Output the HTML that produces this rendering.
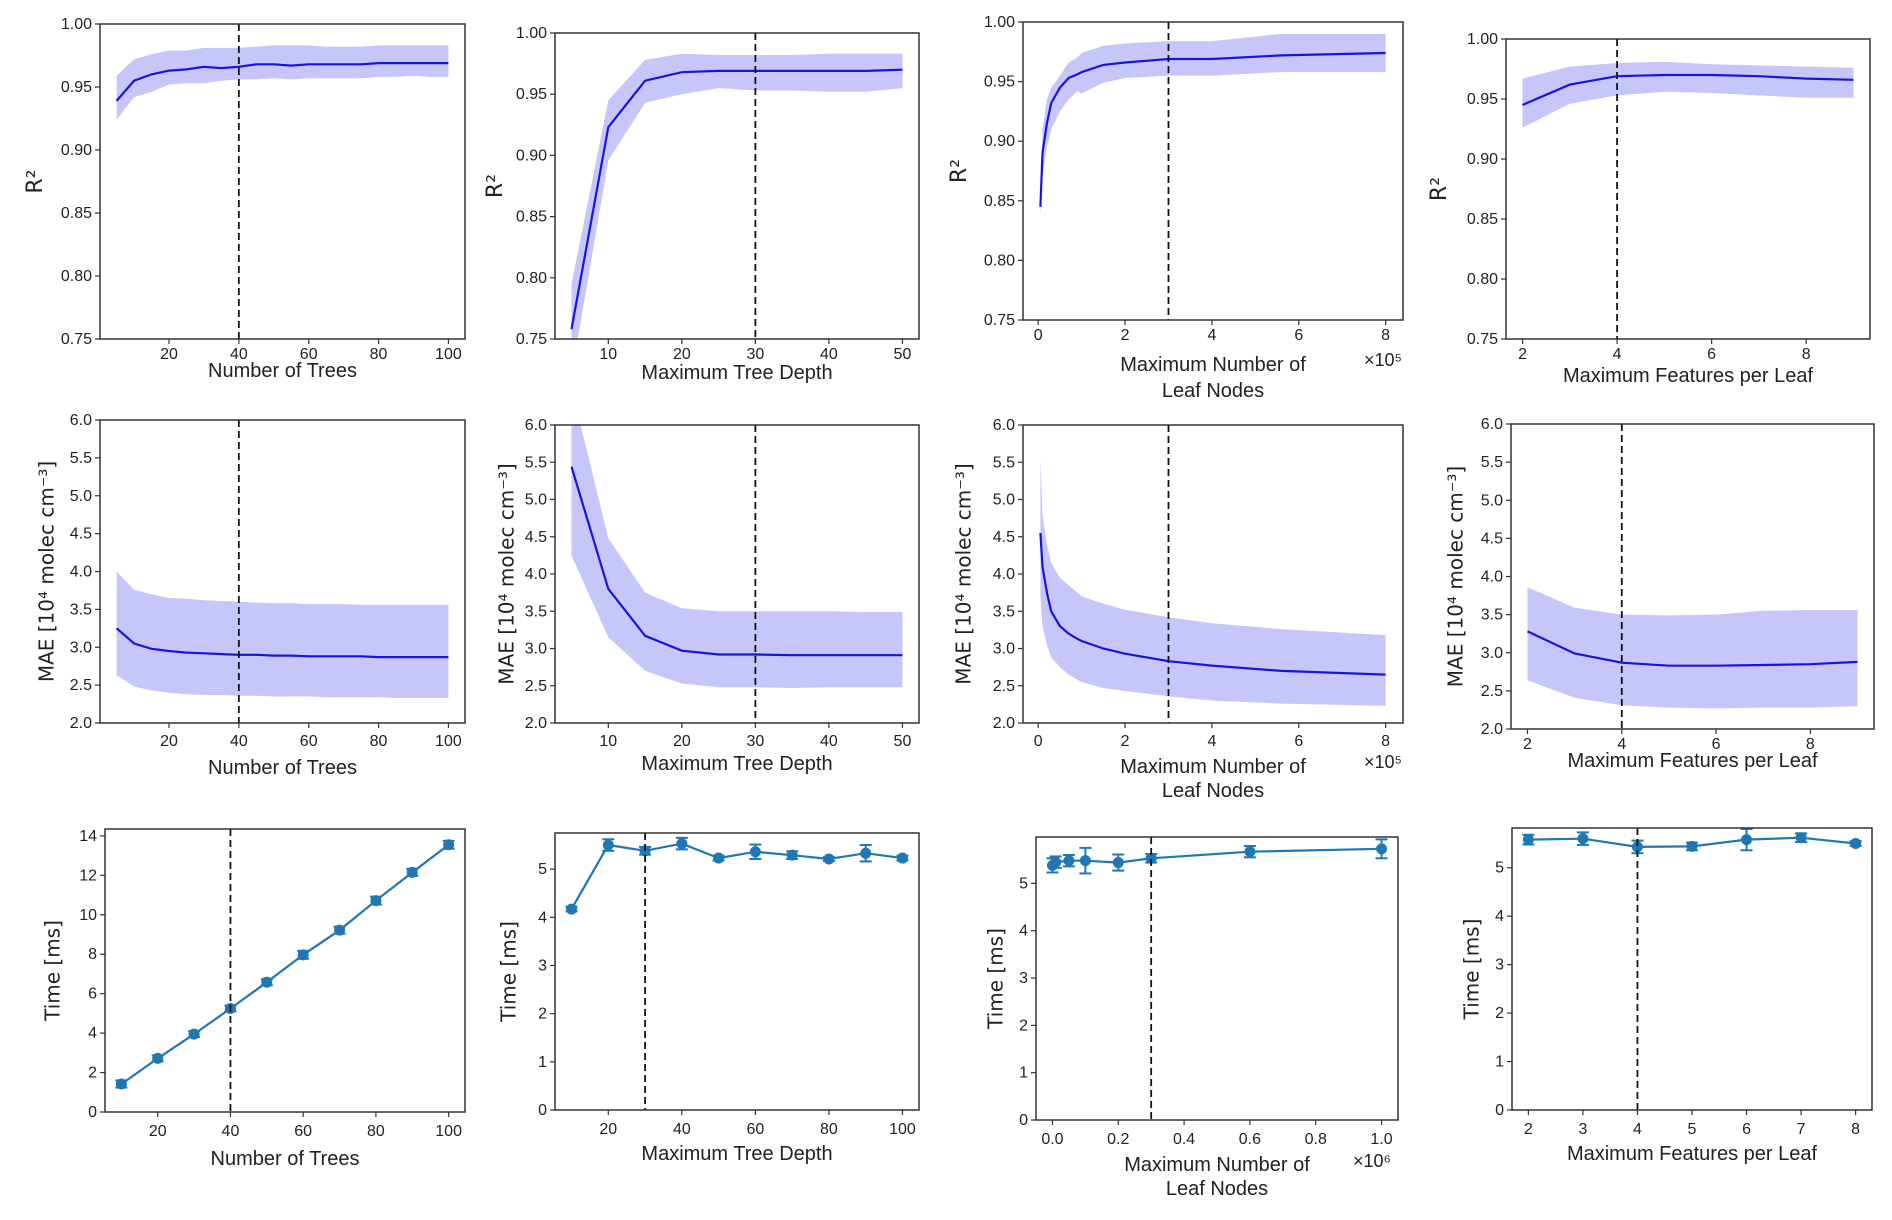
<!DOCTYPE html>
<html><head><meta charset="utf-8"><style>
html,body{margin:0;padding:0;background:#fff}
svg{display:block}
text{font-family:"Liberation Sans",sans-serif;fill:#222}
.tick{font-size:16px}
.mult{font-size:18px}
.xl{font-size:20px}
.yl{font-family:"DejaVu Sans","Liberation Sans",sans-serif;font-size:20px}
.ylr{font-family:"DejaVu Sans","Liberation Sans",sans-serif;font-size:22px}
</style></head><body>
<svg id="fig" width="1892" height="1220" viewBox="0 0 1892 1220" xmlns="http://www.w3.org/2000/svg"></svg>
<script>
// ---- data ----
const treesX=[5,10,15,20,25,30,35,40,45,50,55,60,65,70,75,80,85,90,95,100];
const r2TreesMean=[0.939,0.955,0.960,0.963,0.964,0.966,0.965,0.966,0.968,0.968,0.967,0.968,0.968,0.968,0.968,0.969,0.969,0.969,0.969,0.969];
const r2TreesUp=[0.959,0.972,0.976,0.979,0.979,0.981,0.981,0.981,0.982,0.983,0.983,0.983,0.982,0.982,0.982,0.983,0.983,0.983,0.983,0.983];
const r2TreesLo=[0.924,0.942,0.946,0.952,0.953,0.953,0.955,0.956,0.956,0.957,0.956,0.957,0.957,0.957,0.957,0.958,0.958,0.959,0.958,0.958];
const depthX=[5,10,15,20,25,30,35,40,45,50];
const r2DepthMean=[0.758,0.923,0.961,0.968,0.969,0.969,0.969,0.969,0.969,0.970];
const r2DepthUp=[0.795,0.945,0.978,0.983,0.982,0.982,0.982,0.983,0.983,0.983];
const r2DepthLo=[0.72,0.896,0.943,0.950,0.955,0.953,0.953,0.952,0.952,0.955];
const leafX=[0.05,0.1,0.2,0.3,0.5,0.7,0.9,1.0,1.5,2,3,4,5.6,8];
const r2LeafMean=[0.845,0.89,0.915,0.932,0.945,0.953,0.956,0.958,0.964,0.966,0.969,0.969,0.972,0.974];
const r2LeafUp=[0.85,0.91,0.935,0.945,0.955,0.966,0.970,0.974,0.980,0.982,0.984,0.984,0.990,0.990];
const r2LeafLo=[0.838,0.87,0.895,0.91,0.925,0.935,0.942,0.940,0.949,0.953,0.955,0.955,0.958,0.958];
const featX=[2,3,4,5,6,7,8,9];
const r2FeatMean=[0.945,0.962,0.969,0.970,0.970,0.969,0.967,0.966];
const r2FeatUp=[0.967,0.977,0.980,0.981,0.979,0.978,0.977,0.976];
const r2FeatLo=[0.926,0.946,0.953,0.956,0.955,0.953,0.951,0.951];
const maeTreesMean=[3.25,3.05,2.98,2.95,2.93,2.92,2.91,2.90,2.90,2.89,2.89,2.88,2.88,2.88,2.88,2.87,2.87,2.87,2.87,2.87];
const maeTreesUp=[4.0,3.76,3.70,3.65,3.64,3.62,3.61,3.60,3.59,3.58,3.58,3.57,3.57,3.57,3.56,3.56,3.56,3.56,3.56,3.56];
const maeTreesLo=[2.63,2.48,2.43,2.40,2.38,2.37,2.37,2.36,2.36,2.35,2.35,2.35,2.34,2.34,2.34,2.34,2.33,2.33,2.33,2.33];
const maeDepthMean=[5.44,3.80,3.17,2.97,2.92,2.92,2.91,2.91,2.91,2.91];
const maeDepthUp=[6.5,4.48,3.75,3.54,3.50,3.50,3.50,3.50,3.49,3.49];
const maeDepthLo=[4.25,3.15,2.70,2.53,2.48,2.48,2.47,2.48,2.48,2.48];
const maeLeafMean=[4.55,4.1,3.75,3.5,3.3,3.2,3.13,3.10,3.0,2.93,2.83,2.77,2.70,2.65];
const maeLeafUp=[5.55,4.8,4.4,4.15,3.95,3.85,3.75,3.70,3.60,3.52,3.42,3.34,3.26,3.18];
const maeLeafLo=[3.7,3.3,3.05,2.88,2.75,2.65,2.58,2.55,2.47,2.43,2.36,2.30,2.26,2.23];
const maeFeatMean=[3.28,2.99,2.87,2.83,2.83,2.84,2.85,2.88];
const maeFeatUp=[3.86,3.59,3.50,3.49,3.50,3.55,3.56,3.56];
const maeFeatLo=[2.64,2.41,2.31,2.28,2.27,2.28,2.28,2.30];
const timeTreesX=[10,20,30,40,50,60,70,80,90,100];
const timeTreesMean=[1.42,2.72,3.95,5.25,6.58,7.97,9.22,10.72,12.15,13.55];
const timeTreesErr=[0.18,0.15,0.15,0.15,0.15,0.2,0.18,0.2,0.18,0.2];
const timeDepthX=[10,20,30,40,50,60,70,80,90,100];
const timeDepthMean=[4.17,5.50,5.38,5.53,5.23,5.36,5.29,5.21,5.33,5.23];
const timeDepthErr=[0.05,0.12,0.08,0.12,0.05,0.15,0.08,0.04,0.17,0.05];
const timeLeafX=[0.0,0.01,0.05,0.1,0.2,0.3,0.6,1.0];
const timeLeafMean=[5.38,5.45,5.48,5.48,5.44,5.53,5.67,5.73];
const timeLeafErr=[0.15,0.12,0.12,0.27,0.17,0.09,0.12,0.2];
const timeFeatX=[2,3,4,5,6,7,8];
const timeFeatMean=[5.58,5.60,5.43,5.44,5.58,5.62,5.50];
const timeFeatErr=[0.1,0.13,0.13,0.08,0.22,0.09,0.05];
const r2Ticks=["0.75","0.80","0.85","0.90","0.95","1.00"];
const maeTicks=["2.0","2.5","3.0","3.5","4.0","4.5","5.0","5.5","6.0"];

const NS="http://www.w3.org/2000/svg";
const svg=document.getElementById('fig');
function mk(tag,attrs,parent){const e=document.createElementNS(NS,tag);for(const k in attrs)e.setAttribute(k,attrs[k]);(parent||svg).appendChild(e);return e;}
let clipId=0;

function panel(c){
  const g=mk('g',{});
  
  
  const X=v=>c.box[0]+(v-c.xlim[0])/(c.xlim[1]-c.xlim[0])*(c.box[2]-c.box[0]);
  const Y=v=>c.box[3]-(v-c.ylim[0])/(c.ylim[1]-c.ylim[0])*(c.box[3]-c.box[1]);
  const id='clip'+(clipId++);
  const cp=mk('clipPath',{id:id},g);
  mk('rect',{x:c.box[0],y:c.box[1],width:c.box[2]-c.box[0],height:c.box[3]-c.box[1]},cp);
  const inner=mk('g',{'clip-path':'url(#'+id+')'},g);
  if(c.up){
    let d='';
    c.x.forEach((v,i)=>{d+=(i?'L':'M')+X(v).toFixed(1)+','+Y(c.up[i]).toFixed(1);});
    for(let i=c.x.length-1;i>=0;i--)d+='L'+X(c.x[i]).toFixed(1)+','+Y(c.lo[i]).toFixed(1);
    const band=mk('path',{d:d+'Z',fill:'#c6c6fb',stroke:'none'},inner);
    
    
  }
  const col=c.err?'#1f77b4':'#1515dd';
  let d='';c.x.forEach((v,i)=>{d+=(i?'L':'M')+X(v).toFixed(1)+','+Y(c.y[i]).toFixed(1);});
  const ln=mk('path',{d:d,fill:'none',stroke:col,'stroke-width':2.2},inner);
  
  
  if(c.err){
    c.x.forEach((v,i)=>{
      const px=X(v),a=Y(c.y[i]+c.err[i]),b=Y(c.y[i]-c.err[i]);
      const eg=mk('g',{},inner);
      
      
      mk('line',{x1:px,x2:px,y1:a,y2:b,stroke:col,'stroke-width':2},eg);
      mk('line',{x1:px-6,x2:px+6,y1:a,y2:a,stroke:col,'stroke-width':2},eg);
      mk('line',{x1:px-6,x2:px+6,y1:b,y2:b,stroke:col,'stroke-width':2},eg);
      const pt=mk('circle',{cx:px,cy:Y(c.y[i]),r:5.5,fill:col},eg);
      
      
    });
  }
  const vl=mk('line',{x1:X(c.vline),x2:X(c.vline),y1:c.box[1],y2:c.box[3],stroke:'#111','stroke-width':1.8,'stroke-dasharray':'7,4'},g);
  
  
  mk('rect',{x:c.box[0],y:c.box[1],width:c.box[2]-c.box[0],height:c.box[3]-c.box[1],fill:'none',stroke:'#333','stroke-width':1.5},g);
  c.xt.forEach(t=>{
    const px=X(+t);
    mk('line',{x1:px,x2:px,y1:c.box[3],y2:c.box[3]+5,stroke:'#333','stroke-width':1.2},g);
    const tx=mk('text',{x:px,y:c.box[3]+c.xtOff,'text-anchor':'middle','class':'tick'},g);
    tx.textContent=t;
    
    
  });
  c.yt.forEach(t=>{
    const py=Y(+t);
    mk('line',{x1:c.box[0]-5,x2:c.box[0],y1:py,y2:py,stroke:'#333','stroke-width':1.2},g);
    const tx=mk('text',{x:c.box[0]-8,y:py+5,'text-anchor':'end','class':'tick'},g);
    tx.textContent=t;
    
    
  });
  const cx=(c.box[0]+c.box[2])/2;
  c.xlabel.forEach((s,i)=>{
    const t=mk('text',{x:cx,y:c.xly[i]+7,'text-anchor':'middle','class':'xl'},g);
    t.textContent=s;
    
    
  });
  if(c.mult){
    const t=mk('text',{x:c.mult[1],y:c.mult[2],'text-anchor':'middle','class':'mult'},g);
    t.textContent=c.mult[0];
    
    
  }
  const cy=(c.box[1]+c.box[3])/2;
  const yt=mk('text',{x:c.ylx,y:cy,'text-anchor':'middle','class':c.ylabel==='R²'?'ylr':'yl',transform:'rotate(-90 '+c.ylx+' '+cy+')','dominant-baseline':'middle'},g);
  yt.textContent=c.ylabel;
  
  
}
const R2='R²',MAE='MAE [10⁴ molec cm⁻³]',TM='Time [ms]';
const LN=['Maximum Number of','Leaf Nodes'];
// row 1
panel({name:'r2-vs-trees',box:[100,24,465,339],xlim:[0.25,104.75],ylim:[0.75,1.0],x:treesX,y:r2TreesMean,up:r2TreesUp,lo:r2TreesLo,vline:40,xt:['20','40','60','80','100'],yt:r2Ticks,xtOff:20,xlabel:['Number of Trees'],xly:[370],ylabel:R2,ylx:36});
panel({name:'r2-vs-depth',box:[555,33,919,339],xlim:[2.75,52.25],ylim:[0.75,1.0],x:depthX,y:r2DepthMean,up:r2DepthUp,lo:r2DepthLo,vline:30,xt:['10','20','30','40','50'],yt:r2Ticks,xtOff:20,xlabel:['Maximum Tree Depth'],xly:[372],ylabel:R2,ylx:496});
panel({name:'r2-vs-leaf-nodes',box:[1023,22,1403,320],xlim:[-0.35,8.4],ylim:[0.75,1.0],x:leafX,y:r2LeafMean,up:r2LeafUp,lo:r2LeafLo,vline:3,xt:['0','2','4','6','8'],yt:r2Ticks,xtOff:20,xlabel:LN,xly:[364,390],mult:['×10⁵',1383,366],ylabel:R2,ylx:960});
panel({name:'r2-vs-features',box:[1506,39,1870,339],xlim:[1.65,9.35],ylim:[0.75,1.0],x:featX,y:r2FeatMean,up:r2FeatUp,lo:r2FeatLo,vline:4,xt:['2','4','6','8'],yt:r2Ticks,xtOff:20,xlabel:['Maximum Features per Leaf'],xly:[375],ylabel:R2,ylx:1440});
// row 2
panel({name:'mae-vs-trees',box:[100,420,465,723],xlim:[0.25,104.75],ylim:[2,6],x:treesX,y:maeTreesMean,up:maeTreesUp,lo:maeTreesLo,vline:40,xt:['20','40','60','80','100'],yt:maeTicks,xtOff:23,xlabel:['Number of Trees'],xly:[767],ylabel:MAE,ylx:48});
panel({name:'mae-vs-depth',box:[555,425,919,723],xlim:[2.75,52.25],ylim:[2,6],x:depthX,y:maeDepthMean,up:maeDepthUp,lo:maeDepthLo,vline:30,xt:['10','20','30','40','50'],yt:maeTicks,xtOff:23,xlabel:['Maximum Tree Depth'],xly:[763],ylabel:MAE,ylx:508});
panel({name:'mae-vs-leaf-nodes',box:[1023,425,1403,723],xlim:[-0.35,8.4],ylim:[2,6],x:leafX,y:maeLeafMean,up:maeLeafUp,lo:maeLeafLo,vline:3,xt:['0','2','4','6','8'],yt:maeTicks,xtOff:23,xlabel:LN,xly:[766,790],mult:['×10⁵',1383,768],ylabel:MAE,ylx:965});
panel({name:'mae-vs-features',box:[1511,424,1874,729],xlim:[1.65,9.35],ylim:[2,6],x:featX,y:maeFeatMean,up:maeFeatUp,lo:maeFeatLo,vline:4,xt:['2','4','6','8'],yt:maeTicks,xtOff:20,xlabel:['Maximum Features per Leaf'],xly:[760],ylabel:MAE,ylx:1457});
// row 3
panel({name:'time-vs-trees',box:[105,829,465,1112],xlim:[5.5,104.5],ylim:[0,14.35],x:timeTreesX,y:timeTreesMean,err:timeTreesErr,vline:40,xt:['20','40','60','80','100'],yt:['0','2','4','6','8','10','12','14'],xtOff:24,xlabel:['Number of Trees'],xly:[1158],ylabel:TM,ylx:54});
panel({name:'time-vs-depth',box:[555,833,919,1110],xlim:[5.5,104.5],ylim:[0,5.75],x:timeDepthX,y:timeDepthMean,err:timeDepthErr,vline:30,xt:['20','40','60','80','100'],yt:['0','1','2','3','4','5'],xtOff:24,xlabel:['Maximum Tree Depth'],xly:[1153],ylabel:TM,ylx:510});
panel({name:'time-vs-leaf-nodes',box:[1036,837,1398,1120],xlim:[-0.05,1.05],ylim:[0,5.98],x:timeLeafX,y:timeLeafMean,err:timeLeafErr,vline:0.3,xt:['0.0','0.2','0.4','0.6','0.8','1.0'],yt:['0','1','2','3','4','5'],xtOff:24,xlabel:LN,xly:[1164,1188],mult:['×10⁶',1372,1167],ylabel:TM,ylx:997});
panel({name:'time-vs-features',box:[1512,828,1872,1110],xlim:[1.7,8.3],ylim:[0,5.82],x:timeFeatX,y:timeFeatMean,err:timeFeatErr,vline:4,xt:['2','3','4','5','6','7','8'],yt:['0','1','2','3','4','5'],xtOff:24,xlabel:['Maximum Features per Leaf'],xly:[1153],ylabel:TM,ylx:1473});
</script>
</body></html>
